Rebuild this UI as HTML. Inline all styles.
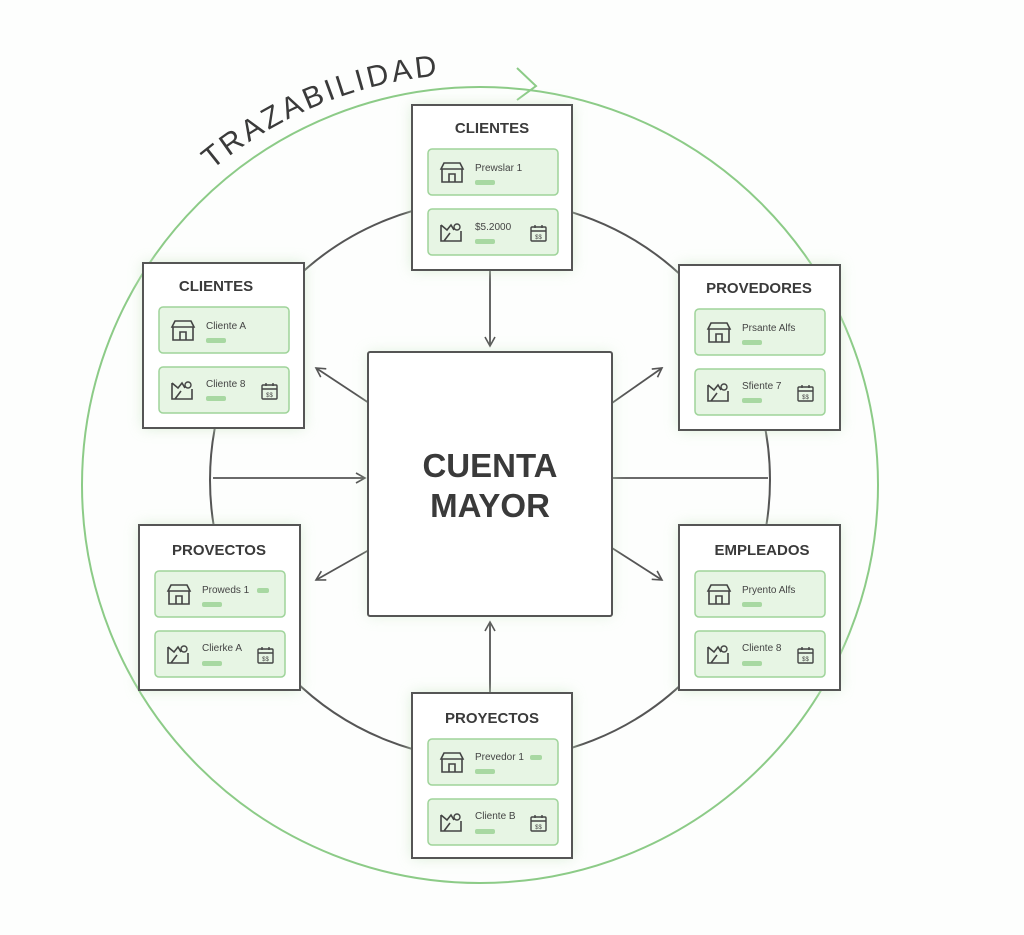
<!DOCTYPE html>
<html><head><meta charset="utf-8"><style>
html,body{margin:0;padding:0;background:#fdfefd;}
svg{display:block;font-family:"Liberation Sans",sans-serif;}
</style></head><body>
<svg width="1024" height="935" viewBox="0 0 1024 935" xmlns="http://www.w3.org/2000/svg">
<defs>
<filter id="glow" x="-20%" y="-20%" width="140%" height="140%"><feGaussianBlur stdDeviation="7"/></filter>
<marker id="ah" viewBox="0 0 12 12" refX="10" refY="6" markerWidth="12" markerHeight="12" markerUnits="userSpaceOnUse" orient="auto"><path d="M1,1 L10,6 L1,11" fill="none" stroke="#555" stroke-width="1.6"/></marker>
<g id="store"><path d="M0,6 L3,0 L19,0 L22,6 Z M1,6 L1,19 L21,19 L21,6 M8,19 L8,11 L14,11 L14,19" fill="none" stroke="#444" stroke-width="1.6"/></g>
<g id="map"><path d="M0,3 L0,19 L20,19 L20,9 M0,3 L6,8 L10,3 L13,8 M3,19 L9,11" fill="none" stroke="#444" stroke-width="1.6"/><circle cx="16" cy="5" r="3" fill="none" stroke="#444" stroke-width="1.4"/></g>
<g id="cal"><rect x="0" y="2" width="15" height="14" rx="1" fill="none" stroke="#444" stroke-width="1.4"/><path d="M0,6 L15,6 M4,0 L4,3 M11,0 L11,3" stroke="#444" stroke-width="1.4"/><text x="7.5" y="14" font-size="6" text-anchor="middle" fill="#444">$$</text></g>
</defs>

<circle cx="480" cy="485" r="398" fill="none" stroke="#8ccb87" stroke-width="2"/>
<path d="M517,68 L536,86 L517,100" fill="none" stroke="#8ccb87" stroke-width="2"/>
<path id="tp" d="M212,170 A410 410 0 0 1 540,79" fill="none"/>
<text font-size="30" fill="#3a3a3a" letter-spacing="3"><textPath href="#tp">TRAZABILIDAD</textPath></text>

<circle cx="490" cy="480" r="280" fill="none" stroke="#555" stroke-width="2"/>

<g stroke="#555" stroke-width="1.8" fill="none">
<line x1="490" y1="270" x2="490" y2="346" marker-end="url(#ah)"/>
<line x1="490" y1="693" x2="490" y2="622" marker-end="url(#ah)"/>
<line x1="213" y1="478" x2="365" y2="478" marker-end="url(#ah)"/>
<line x1="612" y1="478" x2="768" y2="478"/>
<line x1="369" y1="403" x2="316" y2="368" marker-end="url(#ah)"/>
<line x1="612" y1="403" x2="662" y2="368" marker-end="url(#ah)"/>
<line x1="369" y1="550" x2="316" y2="580" marker-end="url(#ah)"/>
<line x1="612" y1="548" x2="662" y2="580" marker-end="url(#ah)"/>
</g>

<rect x="368" y="352" width="244" height="264" fill="#cfe9cb" filter="url(#glow)" opacity="0.6"/>
<rect x="368" y="352" width="244" height="264" fill="#fff" stroke="#555" stroke-width="2" rx="2"/>
<text x="490" y="477" font-size="33" font-weight="bold" text-anchor="middle" fill="#3a3a3a">CUENTA</text>
<text x="490" y="517" font-size="33" font-weight="bold" text-anchor="middle" fill="#3a3a3a">MAYOR</text>

<g transform="translate(412,105)">
<rect width="160" height="165" fill="#cfe9cb" filter="url(#glow)" opacity="0.8"/>
<rect width="160" height="165" fill="#fff" stroke="#555" stroke-width="2"/>
<text x="80" y="28" font-size="15" font-weight="bold" text-anchor="middle" fill="#3a3a3a">CLIENTES</text>
<rect x="16" y="44" width="130" height="46" rx="4" fill="#e7f5e4" stroke="#9fd49a" stroke-width="1.5"/>
<use href="#store" x="29" y="58"/><text x="63" y="66" font-size="10" fill="#444">Prewslar 1</text><rect x="63" y="75" width="20" height="5" rx="2" fill="#a8d8a2"/>
<rect x="16" y="104" width="130" height="46" rx="4" fill="#e7f5e4" stroke="#9fd49a" stroke-width="1.5"/>
<use href="#map" x="29" y="117"/><text x="63" y="125" font-size="10" fill="#444">$5.2000</text><rect x="63" y="134" width="20" height="5" rx="2" fill="#a8d8a2"/><use href="#cal" x="119" y="120"/>
</g>

<g transform="translate(143,263)">
<rect width="161" height="165" fill="#cfe9cb" filter="url(#glow)" opacity="0.8"/>
<rect width="161" height="165" fill="#fff" stroke="#555" stroke-width="2"/>
<text x="73" y="28" font-size="15" font-weight="bold" text-anchor="middle" fill="#3a3a3a">CLIENTES</text>
<rect x="16" y="44" width="130" height="46" rx="4" fill="#e7f5e4" stroke="#9fd49a" stroke-width="1.5"/>
<use href="#store" x="29" y="58"/><text x="63" y="66" font-size="10" fill="#444">Cliente A</text><rect x="63" y="75" width="20" height="5" rx="2" fill="#a8d8a2"/>
<rect x="16" y="104" width="130" height="46" rx="4" fill="#e7f5e4" stroke="#9fd49a" stroke-width="1.5"/>
<use href="#map" x="29" y="117"/><text x="63" y="124" font-size="10" fill="#444">Cliente 8</text><rect x="63" y="133" width="20" height="5" rx="2" fill="#a8d8a2"/><use href="#cal" x="119" y="120"/>
</g>

<g transform="translate(679,265)">
<rect width="161" height="165" fill="#cfe9cb" filter="url(#glow)" opacity="0.8"/>
<rect width="161" height="165" fill="#fff" stroke="#555" stroke-width="2"/>
<text x="80" y="28" font-size="15" font-weight="bold" text-anchor="middle" fill="#3a3a3a">PROVEDORES</text>
<rect x="16" y="44" width="130" height="46" rx="4" fill="#e7f5e4" stroke="#9fd49a" stroke-width="1.5"/>
<use href="#store" x="29" y="58"/><text x="63" y="66" font-size="10" fill="#444">Prsante Alfs</text><rect x="63" y="75" width="20" height="5" rx="2" fill="#a8d8a2"/>
<rect x="16" y="104" width="130" height="46" rx="4" fill="#e7f5e4" stroke="#9fd49a" stroke-width="1.5"/>
<use href="#map" x="29" y="117"/><text x="63" y="124" font-size="10" fill="#444">Sfiente 7</text><rect x="63" y="133" width="20" height="5" rx="2" fill="#a8d8a2"/><use href="#cal" x="119" y="120"/>
</g>

<g transform="translate(139,525)">
<rect width="161" height="165" fill="#cfe9cb" filter="url(#glow)" opacity="0.8"/>
<rect width="161" height="165" fill="#fff" stroke="#555" stroke-width="2"/>
<text x="80" y="30" font-size="15" font-weight="bold" text-anchor="middle" fill="#3a3a3a">PROVECTOS</text>
<rect x="16" y="46" width="130" height="46" rx="4" fill="#e7f5e4" stroke="#9fd49a" stroke-width="1.5"/>
<use href="#store" x="29" y="60"/><text x="63" y="68" font-size="10" fill="#444">Proweds 1</text><rect x="118" y="63" width="12" height="5" rx="2" fill="#a8d8a2"/><rect x="63" y="77" width="20" height="5" rx="2" fill="#a8d8a2"/>
<rect x="16" y="106" width="130" height="46" rx="4" fill="#e7f5e4" stroke="#9fd49a" stroke-width="1.5"/>
<use href="#map" x="29" y="119"/><text x="63" y="126" font-size="10" fill="#444">Clierke A</text><rect x="63" y="136" width="20" height="5" rx="2" fill="#a8d8a2"/><use href="#cal" x="119" y="122"/>
</g>

<g transform="translate(679,525)">
<rect width="161" height="165" fill="#cfe9cb" filter="url(#glow)" opacity="0.8"/>
<rect width="161" height="165" fill="#fff" stroke="#555" stroke-width="2"/>
<text x="83" y="30" font-size="15" font-weight="bold" text-anchor="middle" fill="#3a3a3a">EMPLEADOS</text>
<rect x="16" y="46" width="130" height="46" rx="4" fill="#e7f5e4" stroke="#9fd49a" stroke-width="1.5"/>
<use href="#store" x="29" y="60"/><text x="63" y="68" font-size="10" fill="#444">Pryento Alfs</text><rect x="63" y="77" width="20" height="5" rx="2" fill="#a8d8a2"/>
<rect x="16" y="106" width="130" height="46" rx="4" fill="#e7f5e4" stroke="#9fd49a" stroke-width="1.5"/>
<use href="#map" x="29" y="119"/><text x="63" y="126" font-size="10" fill="#444">Cliente 8</text><rect x="63" y="136" width="20" height="5" rx="2" fill="#a8d8a2"/><use href="#cal" x="119" y="122"/>
</g>

<g transform="translate(412,693)">
<rect width="160" height="165" fill="#cfe9cb" filter="url(#glow)" opacity="0.8"/>
<rect width="160" height="165" fill="#fff" stroke="#555" stroke-width="2"/>
<text x="80" y="30" font-size="15" font-weight="bold" text-anchor="middle" fill="#3a3a3a">PROYECTOS</text>
<rect x="16" y="46" width="130" height="46" rx="4" fill="#e7f5e4" stroke="#9fd49a" stroke-width="1.5"/>
<use href="#store" x="29" y="60"/><text x="63" y="67" font-size="10" fill="#444">Prevedor 1</text><rect x="118" y="62" width="12" height="5" rx="2" fill="#a8d8a2"/><rect x="63" y="76" width="20" height="5" rx="2" fill="#a8d8a2"/>
<rect x="16" y="106" width="130" height="46" rx="4" fill="#e7f5e4" stroke="#9fd49a" stroke-width="1.5"/>
<use href="#map" x="29" y="119"/><text x="63" y="126" font-size="10" fill="#444">Cliente B</text><rect x="63" y="136" width="20" height="5" rx="2" fill="#a8d8a2"/><use href="#cal" x="119" y="122"/>
</g>
</svg>
</body></html>
